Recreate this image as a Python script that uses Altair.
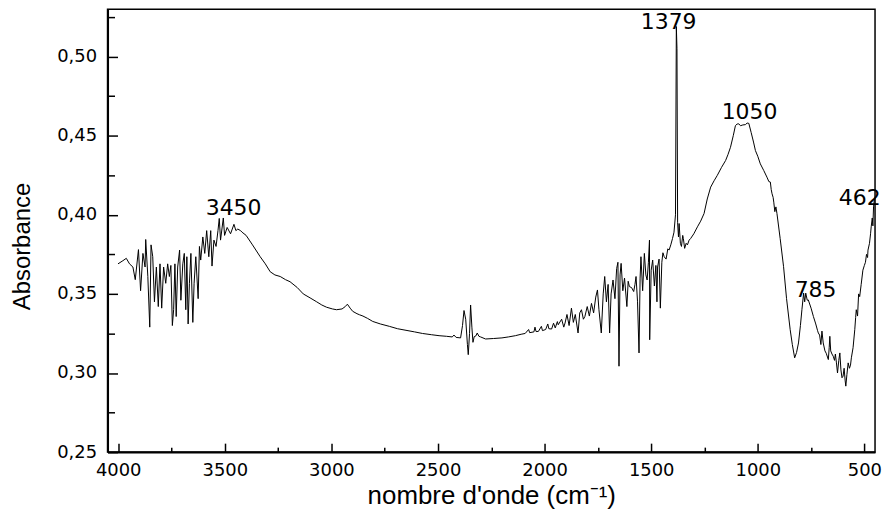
import altair as alt
import pandas as pd

wavenumber = [
    4001, 3978, 3962, 3947, 3931, 3920, 3905, 3895, 3884, 3874, 3871, 3861, 3852, 3846, 3838,
    3830, 3821, 3812, 3804, 3796, 3787, 3777, 3768, 3760, 3753, 3746, 3740, 3734, 3728, 3721,
    3712, 3706, 3697, 3690, 3683, 3678, 3672, 3666, 3659, 3650, 3644, 3636, 3625, 3619, 3613,
    3603, 3594, 3585, 3575, 3566, 3560, 3551, 3541, 3532, 3526, 3520, 3507, 3501, 3489, 3473,
    3457, 3448, 3439, 3426, 3419, 3400, 3370, 3334, 3310, 3287, 3265, 3240, 3215, 3194, 3160,
    3132, 3100, 3069, 3045, 3023, 2995, 2976, 2950, 2935, 2925, 2912, 2900, 2880, 2868, 2852,
    2830, 2806, 2770, 2728, 2690, 2650, 2610, 2573, 2530, 2495, 2460, 2433, 2425, 2415, 2394,
    2385, 2378, 2370, 2362, 2358, 2352, 2347, 2341, 2336, 2330, 2322, 2316, 2308, 2300, 2277,
    2240, 2200, 2170, 2137, 2110, 2091, 2075, 2070, 2050, 2045, 2040, 2029, 2015, 2010, 1995,
    1985, 1980, 1967, 1958, 1950, 1940, 1936, 1920, 1910, 1904, 1895, 1885, 1874, 1865, 1856,
    1843, 1835, 1827, 1818, 1811, 1800, 1790, 1780, 1770, 1760, 1752, 1745, 1734, 1725, 1718,
    1710, 1702, 1695, 1688, 1679, 1670, 1662, 1656, 1651, 1646, 1641, 1633, 1625, 1614, 1608,
    1602, 1592, 1582, 1576, 1571, 1564, 1557, 1552, 1548, 1540, 1532, 1525, 1519, 1513, 1508,
    1507, 1500, 1493, 1485, 1478, 1473, 1470, 1463, 1457, 1450, 1445, 1439, 1430, 1422, 1416,
    1408, 1400, 1393, 1386, 1382, 1379, 1376, 1372, 1369, 1363, 1358, 1352, 1349, 1343, 1336,
    1330, 1322, 1315, 1300, 1283, 1268, 1252, 1237, 1221, 1205, 1190, 1170, 1151, 1140, 1128,
    1115, 1105, 1097, 1089, 1081, 1070, 1058, 1050, 1042, 1031, 1020, 1011, 1000, 988, 972,
    957, 948, 941, 937, 933, 928, 925, 920, 915, 910, 895, 879, 865, 848, 838,
    827, 818, 809, 800, 793, 785, 780, 775, 768, 763, 750, 739, 728, 720, 716,
    710, 704, 699, 693, 685, 679, 669, 665, 662, 658, 652, 646, 640, 636, 631,
    626, 620, 615, 610, 605, 600, 595, 590, 587, 582, 576, 570, 565, 561, 553,
    545, 541, 538, 532, 527, 522, 515, 507, 500, 495, 490, 485, 483, 476, 471,
    468, 463, 460, 457, 453,
]

absorbance = [
    0.369, 0.371, 0.3725, 0.369, 0.367, 0.359, 0.378, 0.352, 0.3756, 0.367, 0.3844, 0.361, 0.329, 0.381, 0.3735,
    0.345, 0.367, 0.342, 0.369, 0.341, 0.367, 0.3567, 0.369, 0.361, 0.368, 0.330, 0.340, 0.369, 0.3357, 0.367,
    0.3777, 0.346, 0.369, 0.3756, 0.340, 0.3735, 0.331, 0.3567, 0.3756, 0.332, 0.3567, 0.3735, 0.347, 0.380, 0.3714,
    0.386, 0.3756, 0.390, 0.3735, 0.390, 0.3676, 0.384, 0.380, 0.390, 0.3977, 0.384, 0.398, 0.387, 0.392, 0.388,
    0.394, 0.390, 0.391, 0.390, 0.389, 0.387, 0.381, 0.3735, 0.369, 0.364, 0.362, 0.361, 0.359, 0.3577, 0.354,
    0.350, 0.3475, 0.345, 0.343, 0.3416, 0.3405, 0.340, 0.3405, 0.342, 0.3435, 0.341, 0.339, 0.3375, 0.3368, 0.336,
    0.3345, 0.3326, 0.331, 0.3295, 0.328, 0.327, 0.326, 0.325, 0.3242, 0.3236, 0.3232, 0.3228, 0.324, 0.3225, 0.3222,
    0.330, 0.3395, 0.334, 0.318, 0.3116, 0.325, 0.343, 0.329, 0.3194, 0.323, 0.3235, 0.3253, 0.3232, 0.3228, 0.3215,
    0.3218, 0.3222, 0.3228, 0.3236, 0.3245, 0.325, 0.3275, 0.3255, 0.326, 0.329, 0.3262, 0.3263, 0.3295, 0.3268, 0.3275,
    0.331, 0.328, 0.3278, 0.3315, 0.3285, 0.3325, 0.3305, 0.334, 0.329, 0.3316, 0.337, 0.330, 0.341, 0.332, 0.337,
    0.3253, 0.338, 0.340, 0.334, 0.3357, 0.342, 0.336, 0.344, 0.338, 0.348, 0.3525, 0.340, 0.3253, 0.350, 0.361,
    0.345, 0.356, 0.3253, 0.350, 0.3588, 0.347, 0.366, 0.370, 0.3043, 0.362, 0.3693, 0.352, 0.360, 0.342, 0.358,
    0.3546, 0.354, 0.3515, 0.356, 0.361, 0.345, 0.3127, 0.360, 0.3735, 0.352, 0.3756, 0.362, 0.3588, 0.370, 0.384,
    0.321, 0.365, 0.3714, 0.355, 0.368, 0.345, 0.367, 0.372, 0.341, 0.370, 0.376, 0.3735, 0.372, 0.3785, 0.3777,
    0.381, 0.385, 0.389, 0.400, 0.519, 0.505, 0.395, 0.386, 0.3945, 0.382, 0.380, 0.387, 0.385, 0.3788, 0.382,
    0.381, 0.384, 0.385, 0.388, 0.3924, 0.396, 0.4008, 0.410, 0.4175, 0.4215, 0.4249, 0.430, 0.4343, 0.438, 0.4427,
    0.450, 0.4563, 0.4574, 0.4575, 0.4563, 0.4568, 0.457, 0.458, 0.4578, 0.452, 0.446, 0.4406, 0.437, 0.4322, 0.428,
    0.4238, 0.421, 0.4207, 0.416, 0.4133, 0.411, 0.408, 0.402, 0.405, 0.4008, 0.385, 0.3672, 0.347, 0.3274, 0.318,
    0.3096, 0.313, 0.319, 0.330, 0.340, 0.3505, 0.345, 0.3505, 0.346, 0.3462, 0.341, 0.3357, 0.331, 0.327, 0.3253,
    0.324, 0.318, 0.3265, 0.319, 0.314, 0.3125, 0.3085, 0.316, 0.3232, 0.314, 0.312, 0.3106, 0.308, 0.312, 0.3064,
    0.300, 0.308, 0.3127, 0.302, 0.297, 0.298, 0.303, 0.295, 0.2917, 0.299, 0.3064, 0.303, 0.305, 0.3096, 0.316,
    0.3274, 0.335, 0.340, 0.336, 0.350, 0.3483, 0.356, 0.365, 0.368, 0.370, 0.375, 0.373, 0.3777, 0.382, 0.388,
    0.3924, 0.398, 0.393, 0.405, 0.410,
]

peak_labels = ["3450", "1379", "1050", "785", "462"]
peak_label_wn = [3459, 1418, 1039, 729, 522]
peak_label_abs = [0.400, 0.5173, 0.4607, 0.3481, 0.406]

x_major = [4000, 3500, 3000, 2500, 2000, 1500, 1000, 500]
x_minor = [3750, 3250, 2750, 2250, 1750, 1250, 750]
y_major = [0.25, 0.30, 0.35, 0.40, 0.45, 0.50]
y_minor = [0.275, 0.325, 0.375, 0.425, 0.475, 0.525]

W, H = 771, 445

spec_df = pd.DataFrame({"wn": wavenumber, "ab": absorbance})
lab_df = pd.DataFrame({"wn": peak_label_wn, "ab": peak_label_abs, "label": peak_labels})

xs = alt.Scale(domain=[450, 4050], reverse=True, nice=False, zero=False)
ys = alt.Scale(domain=[0.25, 0.53], nice=False, zero=False)

line = alt.Chart(spec_df).mark_line(color="black", strokeWidth=1).encode(
    x=alt.X("wn:Q", scale=xs, axis=alt.Axis(
        values=x_major, ticks=False, grid=False, format="d",
        labelFont="DejaVu Sans", labelFontSize=18, labelColor="black", labelPadding=9,
        title="nombre d'onde (cm⁻¹)", titleFont="Liberation Sans", titleFontSize=26,
        titleFontWeight="normal", titleColor="black", titlePadding=4,
        domainColor="black", domainWidth=2)),
    y=alt.Y("ab:Q", scale=ys, axis=alt.Axis(
        values=y_major, ticks=False, grid=False,
        labelExpr="replace(format(datum.value, '.2f'), '.', ',')",
        labelFont="DejaVu Sans", labelFontSize=18, labelColor="black", labelPadding=11,
        title="Absorbance", titleFont="Liberation Sans Narrow, Liberation Sans", titleFontSize=24,
        titleFontWeight="normal", titleColor="black",
        titleX=-85, titleY=238, titleAlign="center", titleBaseline="middle", titleAngle=270,
        domainColor="black", domainWidth=2)),
)

labels = alt.Chart(lab_df).mark_text(
    font="DejaVu Sans", fontSize=22, color="black", align="center", baseline="alphabetic"
).encode(
    x=alt.X("wn:Q", scale=xs, axis=alt.Axis(
        orient="top", offset=-H, values=x_major, labels=False, domain=False, grid=False,
        tickSize=9, tickWidth=1.5, tickColor="black", title=None)),
    y=alt.Y("ab:Q", scale=ys, axis=alt.Axis(
        orient="right", offset=-W, values=y_major, labels=False, domain=False, grid=False,
        tickSize=10, tickWidth=1.5, tickColor="black", title=None)),
    text="label:N",
)

minor = alt.Chart(spec_df).mark_line(opacity=0).encode(
    x=alt.X("wn:Q", scale=xs, axis=alt.Axis(
        orient="top", offset=-H, values=x_minor, labels=False, domain=False, grid=False,
        tickSize=5, tickWidth=1.5, tickColor="black", title=None)),
    y=alt.Y("ab:Q", scale=ys, axis=alt.Axis(
        orient="right", offset=-W, values=y_minor, labels=False, domain=False, grid=False,
        tickSize=7, tickWidth=1.5, tickColor="black", title=None)),
)

chart = alt.layer(line, labels, minor).resolve_axis(
    x="independent", y="independent"
).properties(
    width=W, height=H, padding={"left": 3, "top": 0, "right": 0, "bottom": 0}, background="white"
).configure_view(stroke="black", strokeWidth=1.5)

chart.save("out.html", embed_options={"renderer": "svg", "actions": False})
